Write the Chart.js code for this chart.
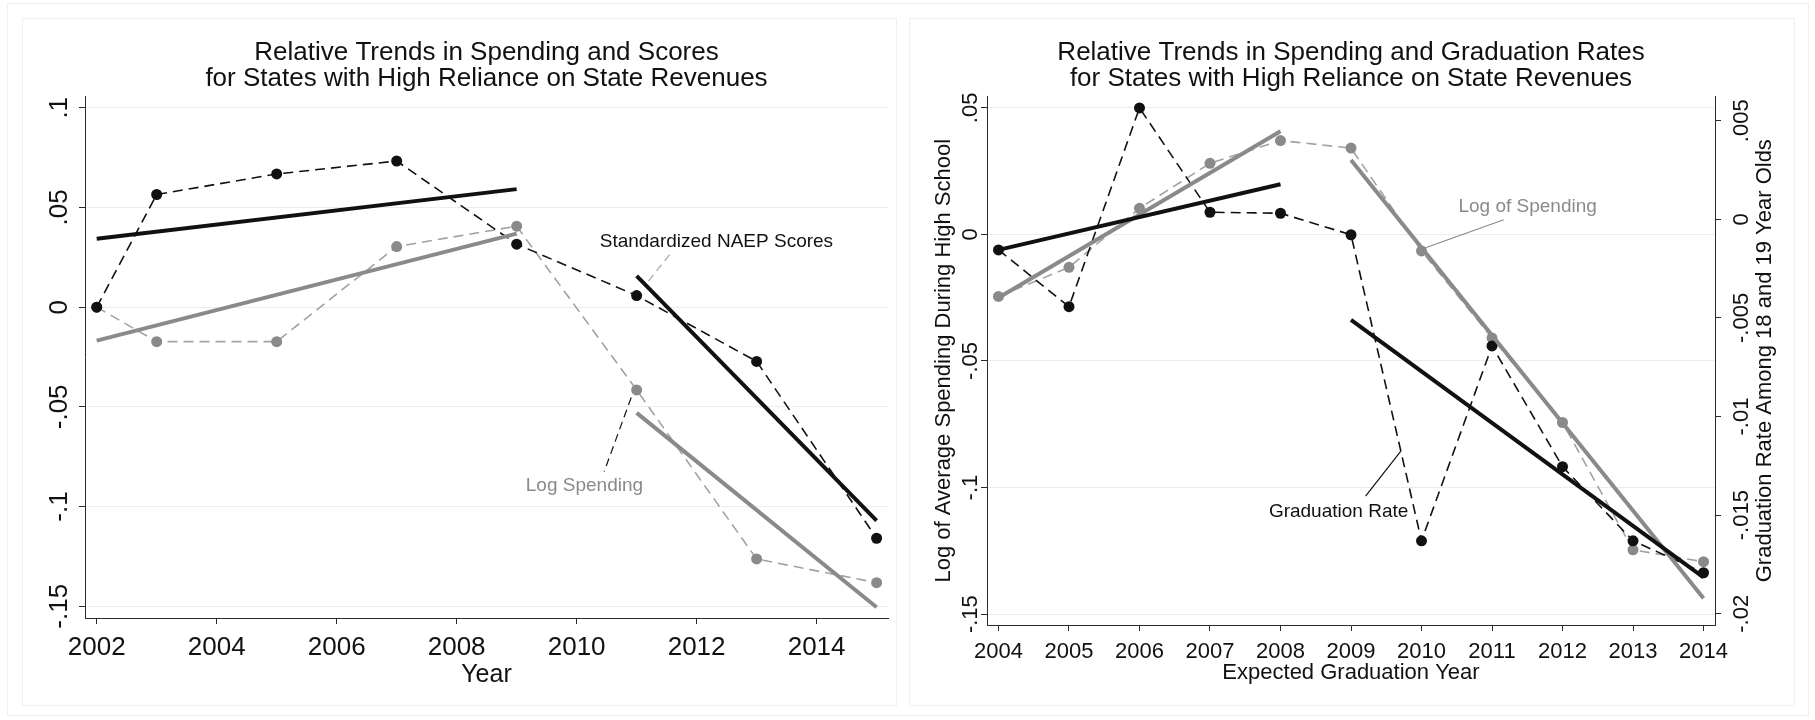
<!DOCTYPE html>
<html lang="en">
<head>
  <meta charset="UTF-8">
  <title>Relative Trends in Spending</title>
  <script src="https://cdn.jsdelivr.net/npm/chart.js"></script>
  <style>
    body { margin: 0; background: #fff; width: 1815px; height: 720px; position: relative; overflow: hidden; }
    #frame { position: absolute; left: 7px; top: 3px; width: 1802px; height: 713px; border: 1px solid #eef1f1; box-sizing: border-box; }
    .panel { position: absolute; top: 18px; height: 688px; border: 1px solid #f0f0f0; box-sizing: border-box; background: #fff; }
    #p1 { left: 22px; width: 875px; }
    #p2 { left: 909px; width: 886px; }
    canvas { position: absolute; left: -1px; top: -1px; }
  </style>
</head>
<body>
  <div id="frame"></div>
  <div class="panel" id="p1"><canvas id="scoresChart" width="875" height="688"></canvas></div>
  <div class="panel" id="p2"><canvas id="gradChart" width="886" height="688"></canvas></div>

  <script>
    // ---- left panel: NAEP scores vs log spending ----
    const naepYears = [2002, 2003, 2005, 2007, 2009, 2011, 2013, 2015];
    const naepScores = [0, 0.0565, 0.0668, 0.0733, 0.0316, 0.0058, -0.0272, -0.1159];
    const naepSpending = [0, -0.0173, -0.0173, 0.0304, 0.0406, -0.0415, -0.1263, -0.1382];
    const naepFitYearsA = [2002, 2009];
    const naepFitYearsB = [2011, 2015];
    const scoreFitA = [0.0343, 0.0592];
    const scoreFitB = [0.0157, -0.1071];
    const spendFitA = [-0.0168, 0.0369];
    const spendFitB = [-0.053, -0.1505];
    const leftYearTicks = [2002, 2004, 2006, 2008, 2010, 2012, 2014];
    const leftValueTicks = [0.1, 0.05, 0, -0.05, -0.1, -0.15];

    // ---- right panel: graduation rate vs log spending ----
    const gradYears = [2004, 2005, 2006, 2007, 2008, 2009, 2010, 2011, 2012, 2013, 2014];
    const gradSpending = [-0.0245, -0.0130, 0.0103, 0.0281, 0.0371, 0.0341, -0.0065, -0.0409, -0.0743, -0.1246, -0.1293];
    const gradRate = [-0.00155, -0.00443, 0.00565, 0.00036, 0.00031, -0.00078, -0.0163, -0.00642, -0.01254, -0.0163, -0.01792];
    const gradFitYearsA = [2004, 2008];
    const gradFitYearsB = [2009, 2014];
    const gSpendFitA = [-0.025, 0.0408];
    const gSpendFitB = [0.0294, -0.1437];
    const gRateFitA = [-0.00155, 0.00178];
    const gRateFitB = [-0.0051, -0.01815];
    const rightYearTicks = [2004, 2005, 2006, 2007, 2008, 2009, 2010, 2011, 2012, 2013, 2014];
    const spendTicks = [0.05, 0, -0.05, -0.1, -0.15];
    const rateTicks = [0.005, 0, -0.005, -0.01, -0.015, -0.02];

    const FONT = '"Liberation Sans", Arial, Helvetica, sans-serif';
    const BLACK = '#111111';
    const GREY = '#8a8a8a';
    const GREY_DASH = '#a2a2a2';
    const AXIS = '#2a2a2a';
    const GRID = '#ececec';

    const pts = (xs, ys) => xs.map((x, i) => ({ x: x, y: ys[i] }));
    // Stata style: ".05", "-.1"
    const stataNum = v => String(Math.round(v * 10000) / 10000).replace(/^(-?)0\./, '$1.');

    function dashed(data, color, axis) {
      return { data: data, yAxisID: axis, borderColor: color, borderWidth: 1.6, borderDash: [10, 6],
               pointRadius: 5.5, pointBackgroundColor: color === BLACK ? BLACK : GREY, pointBorderWidth: 0 };
    }
    function fit(data, color, axis) {
      return { data: data, yAxisID: axis, borderColor: color, borderWidth: 4, pointRadius: 0 };
    }

    // draws rotated y tick labels, axis titles and the text notes
    const stataText = {
      id: 'stataText',
      afterDraw(chart, args, o) {
        const ctx = chart.ctx;
        const ca = chart.chartArea;
        ctx.save();
        ctx.fillStyle = BLACK;
        (o.axes || []).forEach(a => {
          const s = chart.scales[a.id];
          ctx.font = a.size + 'px ' + FONT;
          ctx.textAlign = 'center';
          ctx.textBaseline = 'middle';
          s.ticks.forEach(t => {
            const px = a.side === 'left' ? ca.left - a.off : ca.right + a.off;
            ctx.save();
            ctx.translate(px, s.getPixelForValue(t.value));
            ctx.rotate(-Math.PI / 2);
            ctx.fillText(stataNum(t.value), 0, 0);
            ctx.restore();
          });
          if (a.title) {
            const px = a.side === 'left' ? ca.left - a.titleOff : ca.right + a.titleOff;
            ctx.save();
            ctx.translate(px, (ca.top + ca.bottom) / 2);
            ctx.rotate(-Math.PI / 2);
            ctx.fillText(a.title, 0, 0);
            ctx.restore();
          }
        });
        if (o.xTitle) {
          ctx.font = o.xTitle.size + 'px ' + FONT;
          ctx.textAlign = 'center';
          ctx.textBaseline = 'alphabetic';
          ctx.fillText(o.xTitle.text, (ca.left + ca.right) / 2, ca.bottom + o.xTitle.off);
        }
        const xs = chart.scales.x;
        (o.notes || []).forEach(n => {
          const ys = chart.scales[n.axis];
          if (n.line) {
            ctx.beginPath();
            ctx.strokeStyle = n.lineColor;
            ctx.lineWidth = 1.2;
            ctx.setLineDash(n.dash || []);
            ctx.moveTo(xs.getPixelForValue(n.line[0]), ys.getPixelForValue(n.line[1]));
            ctx.lineTo(xs.getPixelForValue(n.line[2]), ys.getPixelForValue(n.line[3]));
            ctx.stroke();
            ctx.setLineDash([]);
          }
          ctx.font = '19px ' + FONT;
          ctx.fillStyle = n.color;
          ctx.textAlign = 'center';
          ctx.textBaseline = 'middle';
          ctx.fillText(n.text, xs.getPixelForValue(n.x), ys.getPixelForValue(n.y));
        });
        ctx.restore();
      }
    };

    function xAxis(min, max, ticks, size, pad, height) {
      return {
        type: 'linear', min: min, max: max,
        afterBuildTicks: s => { s.ticks = ticks.map(v => ({ value: v })); },
        afterFit: s => { s.height = height; },
        ticks: { color: BLACK, font: { size: size, family: FONT }, padding: pad, maxRotation: 0, callback: v => String(v) },
        grid: { drawOnChartArea: false, tickLength: 6, tickColor: AXIS },
        border: { color: AXIS, width: 1 }
      };
    }
    function yAxis(pos, min, max, ticks, width, onArea) {
      return {
        type: 'linear', position: pos, min: min, max: max,
        afterBuildTicks: s => { s.ticks = ticks.map(v => ({ value: v })); },
        afterFit: s => { s.width = width; },
        ticks: { display: false },
        grid: { drawOnChartArea: onArea, color: GRID, lineWidth: 1, tickLength: 6, tickColor: AXIS },
        border: { color: AXIS, width: 1 }
      };
    }
    function title(lines, padTop, padBottom) {
      return { display: true, text: lines, fullSize: false, color: BLACK,
               font: { size: 26, family: FONT, weight: 'normal', lineHeight: 1.0 },
               padding: { top: padTop, bottom: padBottom } };
    }

    new Chart(document.getElementById('scoresChart'), {
      type: 'line',
      data: {
        datasets: [
          fit(pts(naepFitYearsA, scoreFitA), BLACK, 'y'),
          fit(pts(naepFitYearsB, scoreFitB), BLACK, 'y'),
          fit(pts(naepFitYearsA, spendFitA), GREY, 'y'),
          fit(pts(naepFitYearsB, spendFitB), GREY, 'y'),
          dashed(pts(naepYears, naepScores), BLACK, 'y'),
          dashed(pts(naepYears, naepSpending), GREY_DASH, 'y')
        ]
      },
      options: {
        responsive: false, animation: false,
        layout: { padding: { left: 0, right: 9, top: 0, bottom: 0 } },
        scales: {
          x: xAxis(2001.805, 2015.19, leftYearTicks, 26, 8, 88),
          y: yAxis('left', -0.1559, 0.1059, leftValueTicks, 63, true)
        },
        plugins: {
          legend: { display: false },
          tooltip: { enabled: false },
          title: title(['Relative Trends in Spending and Scores', 'for States with High Reliance on State Revenues'], 22, 4),
          stataText: {
            axes: [{ id: 'y', side: 'left', off: 25, size: 26 }],
            xTitle: { text: 'Year', size: 25, off: 64 },
            notes: [
              { text: 'Standardized NAEP Scores', axis: 'y', x: 2012.33, y: 0.0329, color: BLACK,
                line: [2011.55, 0.0264, 2011.18, 0.0124], lineColor: '#a8a8a8', dash: [8, 5] },
              { text: 'Log Spending', axis: 'y', x: 2010.13, y: -0.0894, color: GREY,
                line: [2010.91, -0.0453, 2010.46, -0.0824], lineColor: BLACK, dash: [8, 5] }
            ]
          }
        }
      },
      plugins: [stataText]
    });

    new Chart(document.getElementById('gradChart'), {
      type: 'line',
      data: {
        datasets: [
          fit(pts(gradFitYearsA, gRateFitA), BLACK, 'y2'),
          fit(pts(gradFitYearsB, gRateFitB), BLACK, 'y2'),
          fit(pts(gradFitYearsA, gSpendFitA), GREY, 'y'),
          fit(pts(gradFitYearsB, gSpendFitB), GREY, 'y'),
          dashed(pts(gradYears, gradRate), BLACK, 'y2'),
          dashed(pts(gradYears, gradSpending), GREY_DASH, 'y')
        ]
      },
      options: {
        responsive: false, animation: false,
        layout: { padding: { left: 0, right: 0, top: 0, bottom: 0 } },
        scales: {
          x: xAxis(2003.837, 2014.163, rightYearTicks, 22, 8, 81),
          y: yAxis('left', -0.1543, 0.05453, spendTicks, 78, true),
          y2: yAxis('right', -0.02057, 0.006235, rateTicks, 80, false)
        },
        plugins: {
          legend: { display: false },
          tooltip: { enabled: false },
          title: title(['Relative Trends in Spending and Graduation Rates', 'for States with High Reliance on State Revenues'], 22, 4.4),
          stataText: {
            axes: [
              { id: 'y', side: 'left', off: 16.5, size: 22, title: 'Log of Average Spending During High School', titleOff: 43.5 },
              { id: 'y2', side: 'right', off: 27, size: 22, title: 'Graduation Rate Among 18 and 19 Year Olds', titleOff: 50 }
            ],
            xTitle: { text: 'Expected Graduation Year', size: 22, off: 54 },
            notes: [
              { text: 'Log of Spending', axis: 'y', x: 2011.505, y: 0.0109, color: GREY,
                line: [2011.165, 0.0058, 2010.058, -0.00525], lineColor: GREY },
              { text: 'Graduation Rate', axis: 'y2', x: 2008.824, y: -0.01485, color: BLACK,
                line: [2009.207, -0.01404, 2009.704, -0.01176], lineColor: BLACK }
            ]
          }
        }
      },
      plugins: [stataText]
    });
  </script>
</body>
</html>
